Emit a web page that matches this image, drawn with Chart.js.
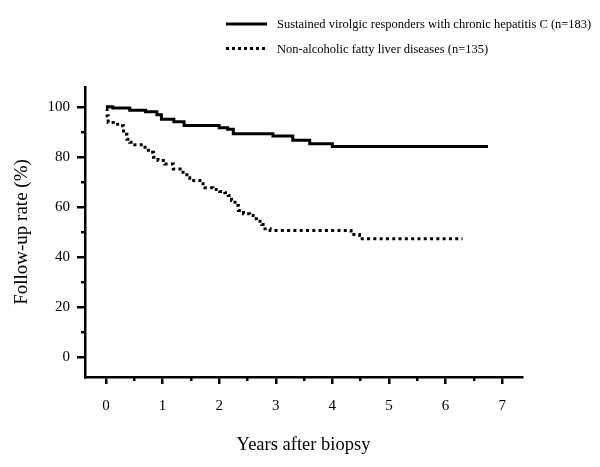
<!DOCTYPE html>
<html lang="en">
<head>
    <meta charset="UTF-8">
    <title>Follow-up rate after biopsy</title>
    <script src="https://cdn.jsdelivr.net/npm/chart.js"></script>
    <style>
        body {
            margin: 0;
            padding: 0;
            background-color: white;
        }
        #wrap {
            width: 600px;
            height: 467px;
        }
    </style>
</head>
<body>
    <div id="wrap"><canvas id="kmChart" width="600" height="467"></canvas></div>

    <script>
        // series: Sustained virologic responders with chronic hepatitis C
        const svrYears  = [0, 0.12, 0.42, 0.70, 0.90, 0.98, 1.20, 1.38, 2.00, 2.15, 2.25, 2.95, 3.30, 3.60, 4.00, 6.75];
        const svrRates  = [100, 99.5, 98.6, 98, 96.8, 95, 94, 92.5, 91.6, 91, 89.2, 88.3, 86.6, 85.2, 84.1, 84.1];

        // series: Non-alcoholic fatty liver diseases
        const nafldYears = [0, 0.02, 0.04, 0.13, 0.25, 0.31, 0.37, 0.42, 0.51, 0.66, 0.75, 0.84, 0.92, 1.04, 1.19, 1.31, 1.43,
                            1.48, 1.66, 1.75, 1.89, 2.01, 2.10, 2.16, 2.22, 2.28, 2.34, 2.43, 2.54, 2.60, 2.66, 2.75, 2.81, 2.90,
                            4.33, 4.48, 6.30];
        const nafldRates = [99, 96.4, 93.7, 93, 92.4, 89, 87, 85.8, 84.8, 83.8, 81.8, 79.8, 78.5, 77.1, 75.1, 73.8, 71.6,
                            70.5, 69.2, 67.6, 66.9, 66.1, 65.6, 64.5, 62.5, 60.5, 58.5, 57.2, 56.5, 55.2, 54.2, 52.9, 51.2, 50.5,
                            48.9, 47.2, 47.2];

        const seriesLabels = [
            'Sustained virolgic responders with chronic hepatitis C (n=183)',
            'Non-alcoholic fatty liver diseases (n=135)'
        ];

        const yearTicks = [0, 1, 2, 3, 4, 5, 6, 7];
        const yearMinorTicks = [0.5, 1.5, 2.5, 3.5, 4.5, 5.5, 6.5];
        const rateTicks = [0, 20, 40, 60, 80, 100];
        const rateMinorTicks = [10, 30, 50, 70, 90];

        const serif = "'Liberation Serif', 'Times New Roman', serif";

        function toPoints(xs, ys) {
            return xs.map((x, i) => ({ x: x, y: ys[i] }));
        }

        // legend drawn at the top right, like the original figure
        const topLegend = {
            id: 'topLegend',
            afterDraw(chart) {
                const ctx = chart.ctx;
                const rows = [
                    { y: 24, dash: [] },
                    { y: 48.5, dash: [3, 3] }
                ];
                ctx.save();
                ctx.strokeStyle = '#000';
                ctx.fillStyle = '#000';
                ctx.lineWidth = 3;
                ctx.font = '12.5px ' + serif;
                ctx.textBaseline = 'middle';
                rows.forEach((row, i) => {
                    ctx.setLineDash(row.dash);
                    ctx.beginPath();
                    ctx.moveTo(226, row.y);
                    ctx.lineTo(267, row.y);
                    ctx.stroke();
                    ctx.fillText(seriesLabels[i], 277, row.y + 1);
                });
                ctx.restore();
            }
        };

        const commonGrid = {
            drawOnChartArea: false,
            color: '#000',
            lineWidth: 2.5
        };

        new Chart(document.getElementById('kmChart'), {
            type: 'line',
            data: {
                datasets: [{
                    label: seriesLabels[0],
                    data: toPoints(svrYears, svrRates),
                    borderColor: '#000',
                    borderWidth: 3,
                    stepped: true,
                    pointRadius: 0,
                    fill: false
                }, {
                    label: seriesLabels[1],
                    data: toPoints(nafldYears, nafldRates),
                    borderColor: '#000',
                    borderWidth: 3,
                    borderDash: [3, 3.3],
                    stepped: true,
                    pointRadius: 0,
                    fill: false
                }]
            },
            options: {
                responsive: false,
                animation: false,
                layout: {
                    padding: { top: 87, right: 78, bottom: 0, left: 0 }
                },
                plugins: {
                    legend: { display: false },
                    tooltip: { enabled: false }
                },
                scales: {
                    x: {
                        type: 'linear',
                        min: -0.37,
                        max: 7.35,
                        weight: 1,
                        afterBuildTicks: axis => { axis.ticks = yearTicks.map(v => ({ value: v })); },
                        afterFit: axis => { axis.height = 90; },
                        grid: Object.assign({}, commonGrid, { tickLength: 7 }),
                        border: { display: true, color: '#000', width: 2.5 },
                        ticks: {
                            color: '#000',
                            padding: 13,
                            maxRotation: 0,
                            font: { family: serif, size: 15 }
                        },
                        title: {
                            display: true,
                            text: 'Years after biopsy',
                            color: '#000',
                            font: { family: serif, size: 18.5 },
                            padding: { top: 0, bottom: 11 }
                        }
                    },
                    xMinor: {
                        type: 'linear',
                        position: 'bottom',
                        min: -0.37,
                        max: 7.35,
                        weight: 0,
                        afterBuildTicks: axis => { axis.ticks = yearMinorTicks.map(v => ({ value: v })); },
                        afterFit: axis => { axis.height = 0; },
                        grid: Object.assign({}, commonGrid, { tickLength: 4 }),
                        border: { display: false },
                        ticks: { display: false }
                    },
                    y: {
                        type: 'linear',
                        min: -8.1,
                        max: 107.9,
                        weight: 1,
                        afterBuildTicks: axis => { axis.ticks = rateTicks.map(v => ({ value: v })); },
                        afterFit: axis => { axis.width = 85; },
                        grid: Object.assign({}, commonGrid, { tickLength: 8 }),
                        border: { display: true, color: '#000', width: 2.5 },
                        ticks: {
                            color: '#000',
                            padding: 7,
                            font: { family: serif, size: 15 }
                        },
                        title: {
                            display: true,
                            text: 'Follow-up rate (%)',
                            color: '#000',
                            font: { family: serif, size: 19 },
                            padding: { top: 11, bottom: 0 }
                        }
                    },
                    yMinor: {
                        type: 'linear',
                        position: 'left',
                        min: -8.1,
                        max: 107.9,
                        weight: 0,
                        afterBuildTicks: axis => { axis.ticks = rateMinorTicks.map(v => ({ value: v })); },
                        afterFit: axis => { axis.width = 0; },
                        grid: Object.assign({}, commonGrid, { tickLength: 4 }),
                        border: { display: false },
                        ticks: { display: false }
                    }
                }
            },
            plugins: [topLegend]
        });
    </script>
</body>
</html>
